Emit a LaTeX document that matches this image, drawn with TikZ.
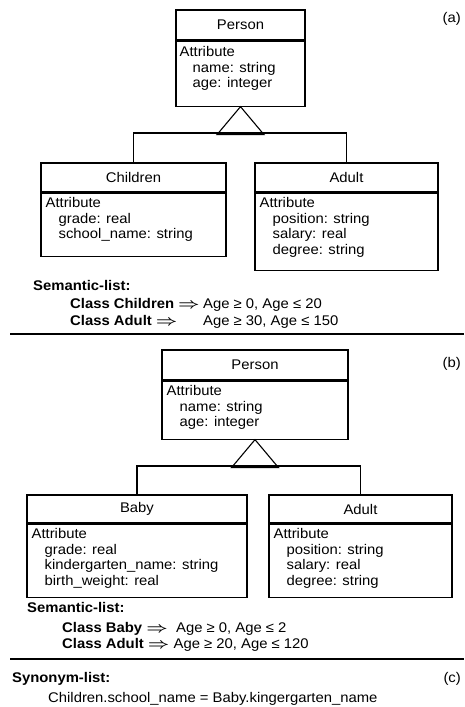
\documentclass[tikz,border=0pt]{standalone}
\usepackage{fontspec}
\setmainfont{Liberation Sans}[FakeStretch=1.06]
\newcommand\umlfont{\fontsize{14}{15.5}\selectfont}
\newcommand\impl{\scalebox{1.3}[1]{\boldmath$\Rightarrow$}}
\begin{document}
\begin{tikzpicture}[x=1pt,y=-1pt,
  font=\umlfont,
  line/.style={line width=1.1pt, line join=miter},
  ctitle/.style={draw, line width=1.1pt, inner sep=0pt},
  cbody/.style={draw, line width=1.1pt, inner sep=0pt},
  attrs/.style={anchor=north west, inner sep=0pt, align=left},
  txt/.style={anchor=base west, inner sep=0pt},
  rule/.style={line width=1.3pt}]
\useasboundingbox (0,0) rectangle (464,707);

% ---------------- (a) ----------------
\node[txt, anchor=base east] (la) at (461,22) {(a)};

\node[ctitle, minimum width=129, minimum height=30] (pa) at (240.5,25) {Person};
\node[cbody, anchor=north, minimum width=129, minimum height=65] (pab) at (pa.south) {};
\node[attrs] (pat) at ([shift={(4,6)}]pab.north west)
  {Attribute\\\hspace{13pt}name: string\\\hspace{13pt}age: integer};

\node[ctitle, minimum width=185, minimum height=29] (ca) at (133.5,177.5) {Children};
\node[cbody, anchor=north, minimum width=185, minimum height=63] (cab) at (ca.south) {};
\node[attrs] (cat) at ([shift={(5,5)}]cab.north west)
  {Attribute\\\hspace{13pt}grade: real\\\hspace{13pt}school\_name: string};

\node[ctitle, minimum width=183, minimum height=29] (aa) at (346.5,177.5) {Adult};
\node[cbody, anchor=north, minimum width=183, minimum height=77] (aab) at (aa.south) {};
\node[attrs] (aat) at ([shift={(5,5)}]aab.north west)
  {Attribute\\\hspace{13pt}position: string\\\hspace{13pt}salary: real\\\hspace{13pt}degree: string};

% generalisation (a)
\coordinate (bara) at (0,133);
\draw[line] (pab.south) -- ++(-23.5,28) -- ++(47,0) -- cycle;
\draw[line] (ca.north) -- (ca.north |- bara) -- (aa.north |- bara) -- (aa.north);

% semantic list (a)
\node[txt] (sla) at (33,290) {\textbf{Semantic-list:}};
\node[txt] (sa1) at (70,308) {\textbf{Class Children} \impl};
\node[txt] (sa1r) at (203,308) {Age ≥ 0, Age ≤ 20};
\node[txt] (sa2) at (70,325) {\textbf{Class Adult} \impl};
\node[txt] (sa2r) at (203,325) {Age ≥ 30, Age ≤ 150};

\draw[rule] (10,334) -- (464,334);

% ---------------- (b) ----------------
\node[txt, anchor=base east] (lb) at (461,367) {(b)};

\node[ctitle, minimum width=186, minimum height=30] (pb) at (255,365) {Person};
\node[cbody, anchor=north, minimum width=186, minimum height=58] (pbb) at (pb.south) {};
\node[attrs] (pbt) at ([shift={(5,5)}]pbb.north west)
  {Attribute\\\hspace{13pt}name: string\\\hspace{13pt}age: integer};

\node[ctitle, minimum width=220, minimum height=28] (bb) at (137,509) {Baby};
\node[cbody, anchor=north, minimum width=220, minimum height=73] (bbb) at (bb.south) {};
\node[attrs] (bbt) at ([shift={(5,5)}]bbb.north west)
  {Attribute\\\hspace{13pt}grade: real\\\hspace{13pt}kindergarten\_name: string\\\hspace{13pt}birth\_weight: real};

\node[ctitle, minimum width=183, minimum height=28] (ab) at (360.5,509) {Adult};
\node[cbody, anchor=north, minimum width=183, minimum height=73] (abb) at (ab.south) {};
\node[attrs] (abt) at ([shift={(5,5)}]abb.north west)
  {Attribute\\\hspace{13pt}position: string\\\hspace{13pt}salary: real\\\hspace{13pt}degree: string};

% generalisation (b)
\coordinate (barb) at (0,466);
\draw[line] (pbb.south) -- ++(-23.5,28) -- ++(47,0) -- cycle;
\draw[line] (bb.north) -- (bb.north |- barb) -- (ab.north |- barb) -- (ab.north);

% semantic list (b)
\node[txt] (slb) at (27,612) {\textbf{Semantic-list:}};
\node[txt] (sb1) at (62,632) {\textbf{Class Baby} \impl\ \ Age ≥ 0, Age ≤ 2};
\node[txt] (sb2) at (62,648) {\textbf{Class Adult} \impl\ Age ≥ 20, Age ≤ 120};

\draw[rule] (10,659) -- (464,659);

% ---------------- (c) ----------------
\node[txt, anchor=base east] (lc) at (461,682) {(c)};
\node[txt] (syn) at (12,682) {\textbf{Synonym-list:}};
\node[txt] (syn1) at (48,702) {Children.school\_name = Baby.kingergarten\_name};
\end{tikzpicture}
\end{document}
